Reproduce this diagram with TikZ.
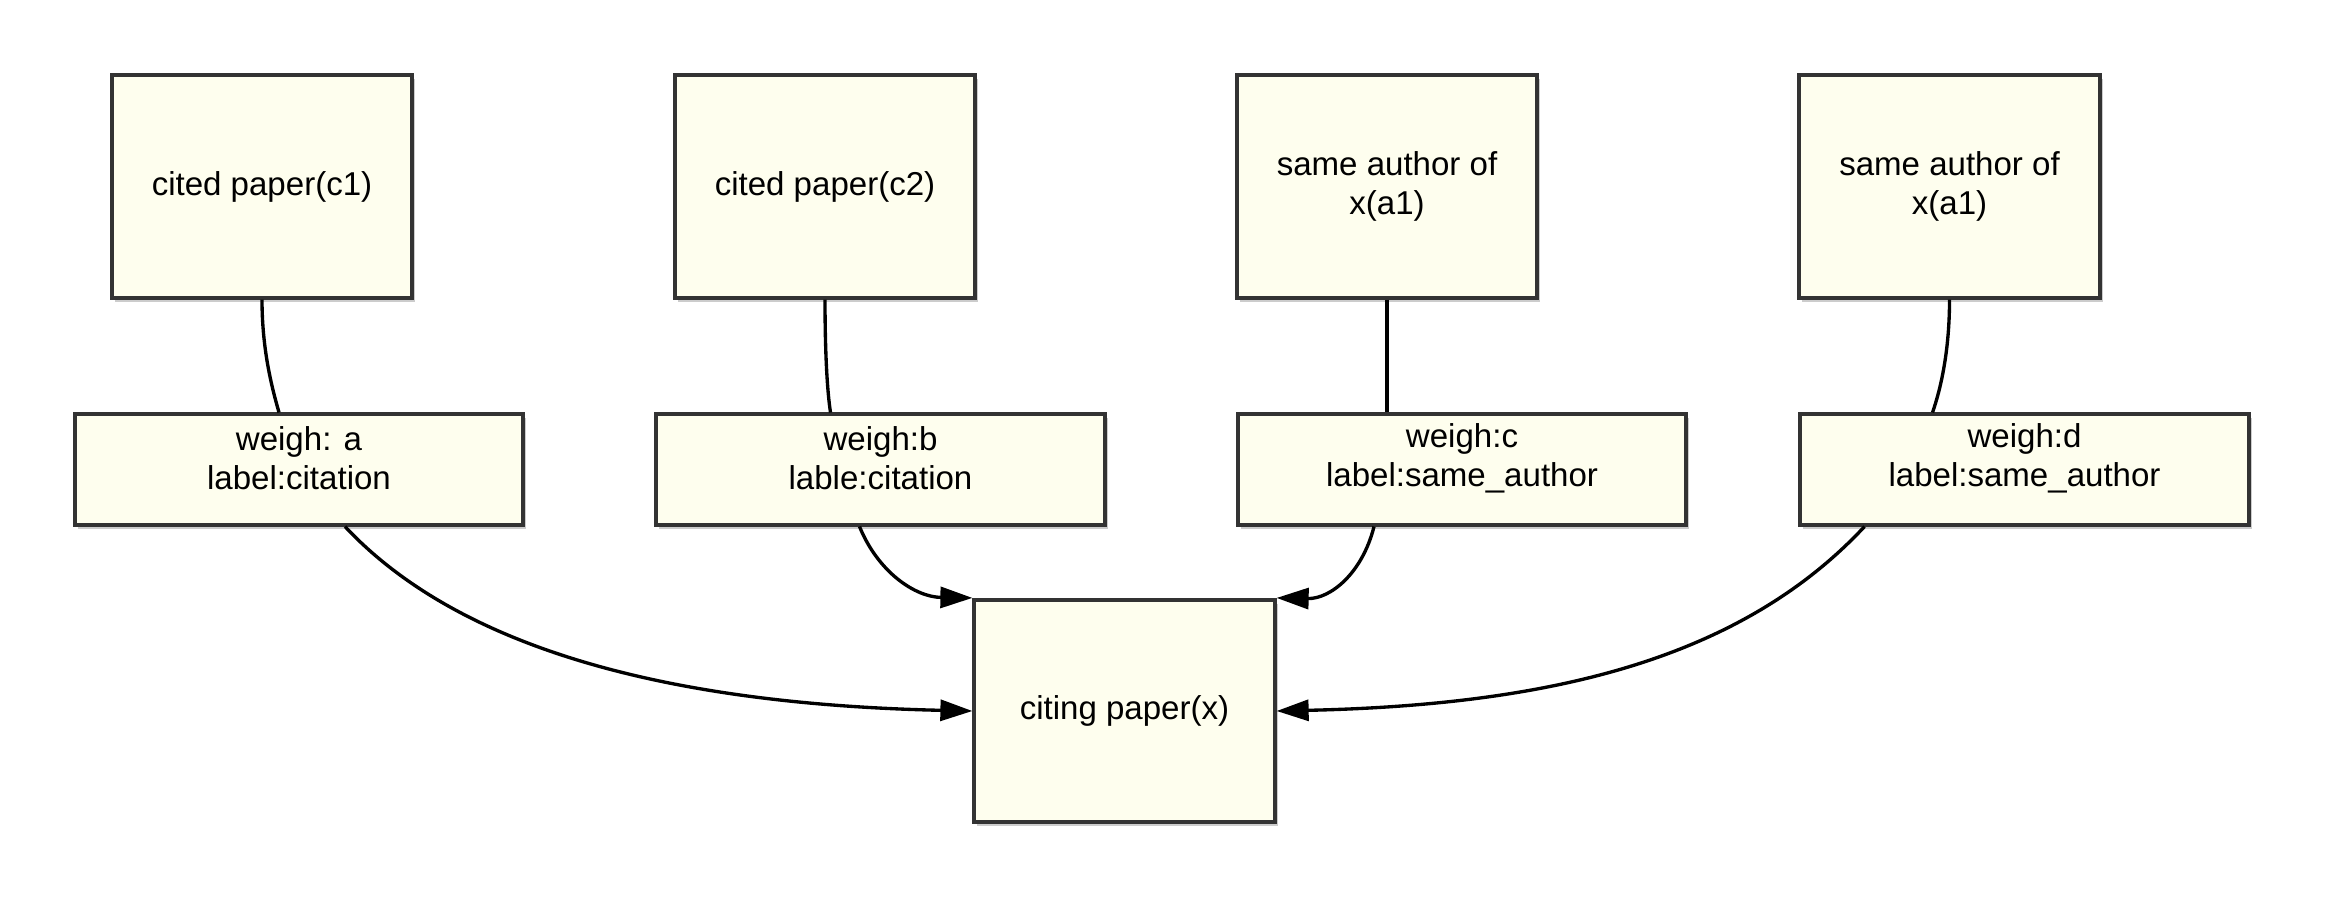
\documentclass[tikz,border=0pt]{standalone}
\usepackage{fontspec}
\setmainfont{Liberation Sans}
\usetikzlibrary{arrows.meta,shadows,calc}
\definecolor{boxfill}{HTML}{FEFEEE}
\definecolor{boxline}{HTML}{333333}
\begin{document}
\begin{tikzpicture}[x=0.01cm,y=-0.01cm,
  txt/.style={inner sep=0pt, align=center, font=\fontsize{9.4pt}{11.2pt}\selectfont},
  box/.style={txt, draw=boxline, line width=1.15pt, fill=boxfill,
    drop shadow={shadow xshift=0.03cm, shadow yshift=-0.04cm, opacity=0.4}},
  paper/.style={box, minimum width=3.0cm, minimum height=2.22cm},
  ebox/.style={box, minimum width=4.48cm, minimum height=1.1cm},
  link/.style={line width=0.95pt, black},
  arr/.style={link, -{Triangle[length=0.32cm,width=0.21cm]}}
]
\useasboundingbox (0,0) rectangle (2325,900);

% top papers
\node[paper] (p1) at (262,186.5) {cited paper(c1)};
\node[paper] (p2) at (825,186.5) {cited paper(c2)};
\node[paper] (p3) at (1387,186.5) {same author of\\x(a1)};
\node[paper] (p4) at (1949.5,186.5) {same author of\\x(a1)};

% edge label boxes
\node[ebox] (ea) at (299,469.5) {};
\node[ebox] (eb) at (880.5,469.5) {};
\node[ebox] (ec) at (1462,469.5) {};
\node[ebox] (ed) at (2024.5,469.5) {};
\node[txt] (eat) at (299,458) {weigh: a\\label:citation};
\node[txt] (ebt) at (880.5,458) {weigh:b\\lable:citation};
\node[txt] (ect) at (1462,458) {weigh:c\\label:same\_author};
\node[txt] (edt) at (2024.5,458) {weigh:d\\label:same\_author};

% citing paper
\node[paper] (cx) at (1124.5,711) {citing paper(x)};

% upper links
\draw[link] (p1.south) .. controls (262,350) and (272,388) .. ($(ea.north)+(-20,0)$);
\draw[link] (p2.south) .. controls (825,350) and (827,390) .. ($(eb.north)+(-50,0)$);
\draw[link] (p3.south) -- ($(ec.north)+(-75,0)$);
\draw[link] (p4.south) .. controls (1949.5,350) and (1941,388) .. ($(ed.north)+(-92,0)$);

% lower arrows
\draw[arr] ($(ea.south)+(46,0)$) .. controls (470,660) and (700,705) .. (cx.west);
\draw[arr] ($(eb.south)+(-21,0)$) .. controls (878,572) and (915,597) .. (cx.north west);
\draw[arr] ($(ec.south)+(-88,0)$) .. controls (1362,574) and (1330,599) .. (cx.north east);
\draw[arr] ($(ed.south)+(-160,0)$) .. controls (1740,660) and (1549,705) .. (cx.east);
\end{tikzpicture}
\end{document}
